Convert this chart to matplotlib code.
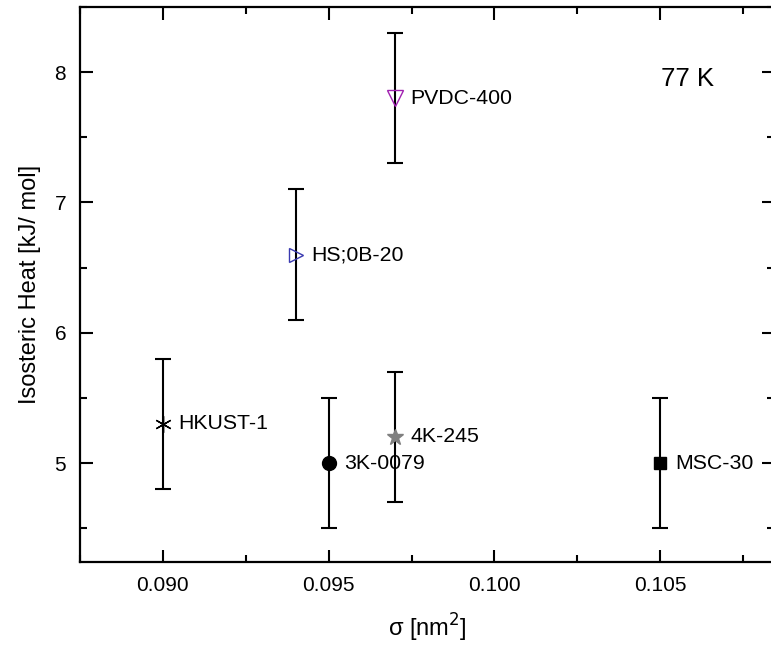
import matplotlib
matplotlib.use("Agg")
import matplotlib.pyplot as plt
from matplotlib.ticker import MultipleLocator, FormatStrFormatter

plt.rcParams['font.family'] = ['Liberation Sans', 'DejaVu Sans']

# data
names = ['HKUST-1', '3K-0079', '4K-245', 'MSC-30', 'HS;0B-20', 'PVDC-400']
sigma = [0.090, 0.095, 0.097, 0.105, 0.094, 0.097]
heat = [5.3, 5.0, 5.2, 5.0, 6.6, 7.8]
err = [0.5, 0.5, 0.5, 0.5, 0.5, 0.5]

markers = [(6, 2, 0), 'o', '*', 's', '>', 'v']
faces = ['black', 'black', 'gray', 'black', 'none', 'none']
edges = ['black', 'black', 'gray', 'black', '#3a3ab0', '#a020b0']
msizes = [12, 10, 12, 9, 10, 11]

fig = plt.figure(figsize=(7.71, 6.53), dpi=100)
ax = fig.add_axes([0.1038, 0.1393, 0.900, 0.8500])

for i in range(len(names)):
    ax.errorbar(sigma[i], heat[i], yerr=err[i], fmt='none', ecolor='black',
                elinewidth=1.5, capsize=6, capthick=1.5, zorder=2)
    ax.plot(sigma[i], heat[i], linestyle='none', marker=markers[i],
            markersize=msizes[i], markerfacecolor=faces[i],
            markeredgecolor=edges[i], markeredgewidth=1.0, zorder=3)
    ax.annotate(names[i], (sigma[i], heat[i]), xytext=(11, 0),
                textcoords='offset points', va='center', ha='left', fontsize=15.3)

ax.text(0.875, 0.870, '77 K', transform=ax.transAxes, fontsize=18.5,
        ha='center', va='center')

ax.set_xlim(0.0875, 0.10843)
ax.set_ylim(4.24, 8.5)
ax.xaxis.set_major_locator(MultipleLocator(0.005))
ax.xaxis.set_minor_locator(MultipleLocator(0.0025))
ax.xaxis.set_major_formatter(FormatStrFormatter('%.3f'))
ax.yaxis.set_major_locator(MultipleLocator(1))
ax.yaxis.set_minor_locator(MultipleLocator(0.5))

ax.tick_params(which='both', direction='in', top=True, right=True,
               labelsize=15, width=1.5)
ax.tick_params(which='major', length=9, pad=10)
ax.tick_params(which='minor', length=5)
for s in ax.spines.values():
    s.set_linewidth(1.6)

ax.set_xlabel(r'σ [nm$^2$]', fontsize=17, labelpad=12)
ax.set_ylabel('Isosteric Heat [kJ/ mol]', fontsize=17, labelpad=10)

fig.savefig('out.png', dpi=100)
